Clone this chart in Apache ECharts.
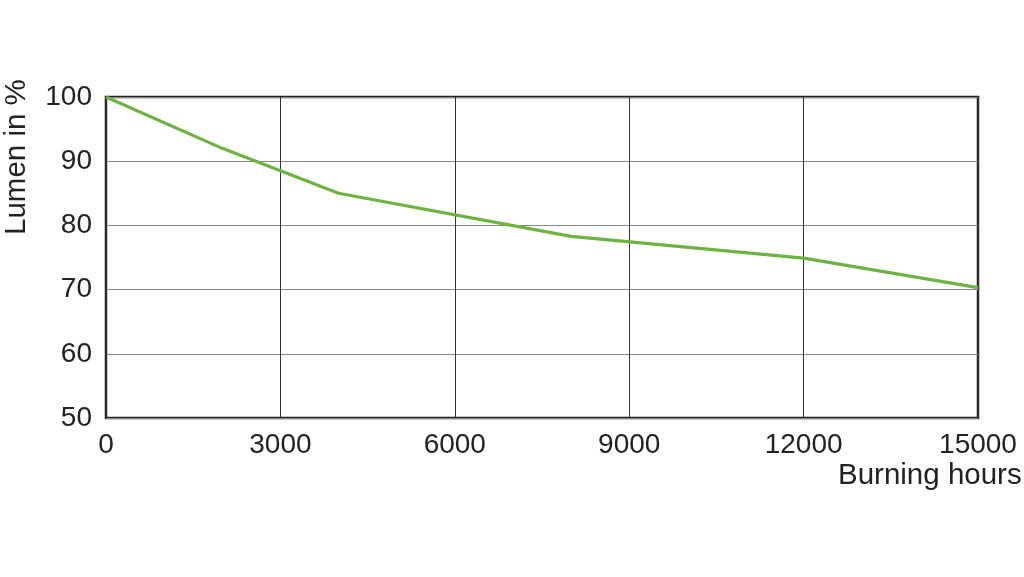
<!DOCTYPE html>
<html><head><meta charset="utf-8">
<script src="https://cdn.jsdelivr.net/npm/echarts@6/dist/echarts.min.js"></script>
<style>html,body{margin:0;padding:0;background:#fff}#c{width:1024px;height:577px}</style>
</head><body><div id="c"></div>
<script>
const hours = [0, 2000, 4000, 8000, 12000, 15000];
const lumen = [100, 92.0, 85.0, 78.3, 74.9, 70.3];
const xTicks = [0, 3000, 6000, 9000, 12000, 15000];
const yTicks = [50, 60, 70, 80, 90, 100];
const xTitle = 'Burning hours';
const yTitle = 'Lumen in %';

const chart = echarts.init(document.getElementById('c'));
const font = 'Liberation Sans, Arial, sans-serif';
chart.setOption({
  animation: false,
  grid: {left: 106, right: 46, top: 97, bottom: 159, show: true, borderColor: '#222', borderWidth: 2.5, backgroundColor: 'transparent'},
  xAxis: {
    type: 'value', min: xTicks[0], max: xTicks[xTicks.length-1], interval: 3000,
    axisLine: {show: false}, axisTick: {show: false},
    splitLine: {show: true, lineStyle: {color: '#333', width: 1}},
    axisLabel: {fontFamily: font, fontSize: 28, color: '#222', margin: 13, formatter: v => String(v)}
  },
  yAxis: {
    type: 'value', min: yTicks[0], max: yTicks[yTicks.length-1], interval: 10,
    axisLine: {show: false}, axisTick: {show: false},
    splitLine: {show: true, lineStyle: {color: '#888', width: 1}},
    axisLabel: {fontFamily: font, fontSize: 28, color: '#222', margin: 14, formatter: v => String(v)}
  },
  graphic: [
    {type: 'text', left: 838, top: 461, style: {text: xTitle, fontFamily: font, fontSize: 29.5, fill: '#222'}},
    {type: 'text', x: 2, y: 235, rotation: Math.PI/2, style: {text: yTitle, fontFamily: font, fontSize: 29.5, fill: '#222'}}
  ],
  series: [{
    type: 'line', data: hours.map((h,i)=>[h, lumen[i]]),
    showSymbol: false, lineStyle: {color: '#6cb33f', width: 3.2}, z: 5
  }]
});
</script></body></html>
